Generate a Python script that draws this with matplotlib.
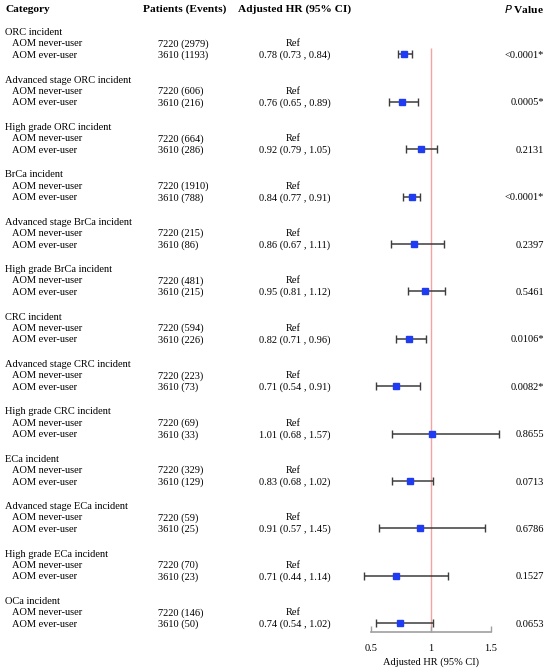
import matplotlib
matplotlib.use("Agg")
import matplotlib.pyplot as plt
from matplotlib.transforms import blended_transform_factory
import numpy as np

plt.rcParams['font.family'] = ['Liberation Serif', 'DejaVu Serif']

# ---- data ----
groups = ["ORC incident", "Advanced stage ORC incident", "High grade ORC incident",
          "BrCa incident", "Advanced stage BrCa incident", "High grade BrCa incident",
          "CRC incident", "Advanced stage CRC incident", "High grade CRC incident",
          "ECa incident", "Advanced stage ECa incident", "High grade ECa incident",
          "OCa incident"]
never_n = [7220] * 13
never_events = [2979, 606, 664, 1910, 215, 481, 594, 223, 69, 329, 59, 70, 146]
ever_n = [3610] * 13
ever_events = [1193, 216, 286, 788, 86, 215, 226, 73, 33, 129, 25, 23, 50]
hr = [0.78, 0.76, 0.92, 0.84, 0.86, 0.95, 0.82, 0.71, 1.01, 0.83, 0.91, 0.71, 0.74]
ci_low = [0.73, 0.65, 0.79, 0.77, 0.67, 0.81, 0.71, 0.54, 0.68, 0.68, 0.57, 0.44, 0.54]
ci_high = [0.84, 0.89, 1.05, 0.91, 1.11, 1.12, 0.96, 0.91, 1.57, 1.02, 1.45, 1.14, 1.02]
p_values = ["<0.0001*", "0.0005*", "0.2131", "<0.0001*", "0.2397", "0.5461",
            "0.0106*", "0.0082*", "0.8655", "0.0713", "0.6786", "0.1527", "0.0653"]
xticks = [0.5, 1, 1.5]
xtick_labels = ["0.5", "1", "1.5"]

W, H = 550, 669
fig = plt.figure(figsize=(W / 100, H / 100), dpi=100)
ax = fig.add_axes([0, 0, 1, 1])
# forest scale: 0.5 -> 370.7 px, 120 px per HR unit
px0, ppu = 370.7, 120.0
ax.set_xlim(0.5 - px0 / ppu, 0.5 + (W - px0) / ppu)
ax.set_ylim(H, 0)
for s in ax.spines.values():
    s.set_visible(False)
ax.set_yticks([])

tr = blended_transform_factory(ax.transAxes, ax.transData)
def fx(px):
    return px / W

fs = 7.5
hfs = 8.2
dy = 1.2  # visual centre of glyphs vs bbox centre
header_y = 8 + dy
ax.text(fx(5), header_y, "Category", transform=tr, fontsize=hfs, fontweight='bold', va='center')
ax.text(fx(185), header_y, "Patients (Events)", transform=tr, fontsize=hfs, fontweight='bold',
        va='center', ha='center')
ax.text(fx(295), header_y, "Adjusted HR (95% CI)", transform=tr, fontsize=hfs, fontweight='bold',
        va='center', ha='center')
ax.text(fx(544), header_y, r"$\bf{\it{P}}$ Value", transform=tr, fontsize=hfs, fontweight='bold',
        va='center', ha='right')

step = 47.4
top = 31.5
ever_rows = []
for k, g in enumerate(groups):
    y0 = top + step * k
    y1 = y0 + 11.2
    y2 = y0 + 22.8
    ever_rows.append(y2)
    ax.text(fx(5), y0 + dy, g, transform=tr, fontsize=fs, va='center')
    ax.text(fx(12), y1 + dy, "AOM never-user", transform=tr, fontsize=fs, va='center')
    ax.text(fx(12), y2 + dy, "AOM ever-user", transform=tr, fontsize=fs, va='center')
    ax.text(fx(158.5), y1 + dy, f"{never_n[k]} ({never_events[k]})", transform=tr, fontsize=fs,
            va='center')
    ax.text(fx(158.5), y2 + dy, f"{ever_n[k]} ({ever_events[k]})", transform=tr, fontsize=fs,
            va='center')
    ax.text(fx(293), y1 + dy, "Ref", transform=tr, fontsize=fs, va='center', ha='center')
    ax.text(fx(295), y2 + dy, f"{hr[k]:.2f} ({ci_low[k]:.2f} , {ci_high[k]:.2f})", transform=tr,
            fontsize=fs, va='center', ha='center')
    ax.text(fx(544), y2 + dy, p_values[k], transform=tr, fontsize=fs, va='center', ha='right')

ever_rows = np.array(ever_rows)
hr_a = np.array(hr)
xerr = [hr_a - np.array(ci_low), np.array(ci_high) - hr_a]

axis_y = 632
ax.vlines(1.0, ever_rows[0] - 6, axis_y, color='#f4a3a3', lw=1.0, zorder=1)
ax.errorbar(hr_a, ever_rows, xerr=xerr, fmt='s', color='#1f3cf2', markersize=3.8,
            ecolor='#3c3c3c', elinewidth=1.1, capsize=3.2, capthick=1.0, zorder=3)

# x axis
ax.spines['bottom'].set_visible(True)
ax.spines['bottom'].set_position(('data', axis_y))
ax.spines['bottom'].set_bounds(xticks[0], xticks[-1])
ax.spines['bottom'].set_color('#a0a0a0')
ax.spines['bottom'].set_linewidth(1.2)
ax.set_xticks(xticks)
ax.set_xticklabels(xtick_labels)
ax.tick_params(axis='x', direction='in', length=4, width=1.0, color='#a0a0a0',
               labelsize=fs, pad=8.5)
ax.text(1.0, 662, "Adjusted HR (95% CI)", fontsize=fs, ha='center', va='center')

fig.savefig("out.png", dpi=100)
